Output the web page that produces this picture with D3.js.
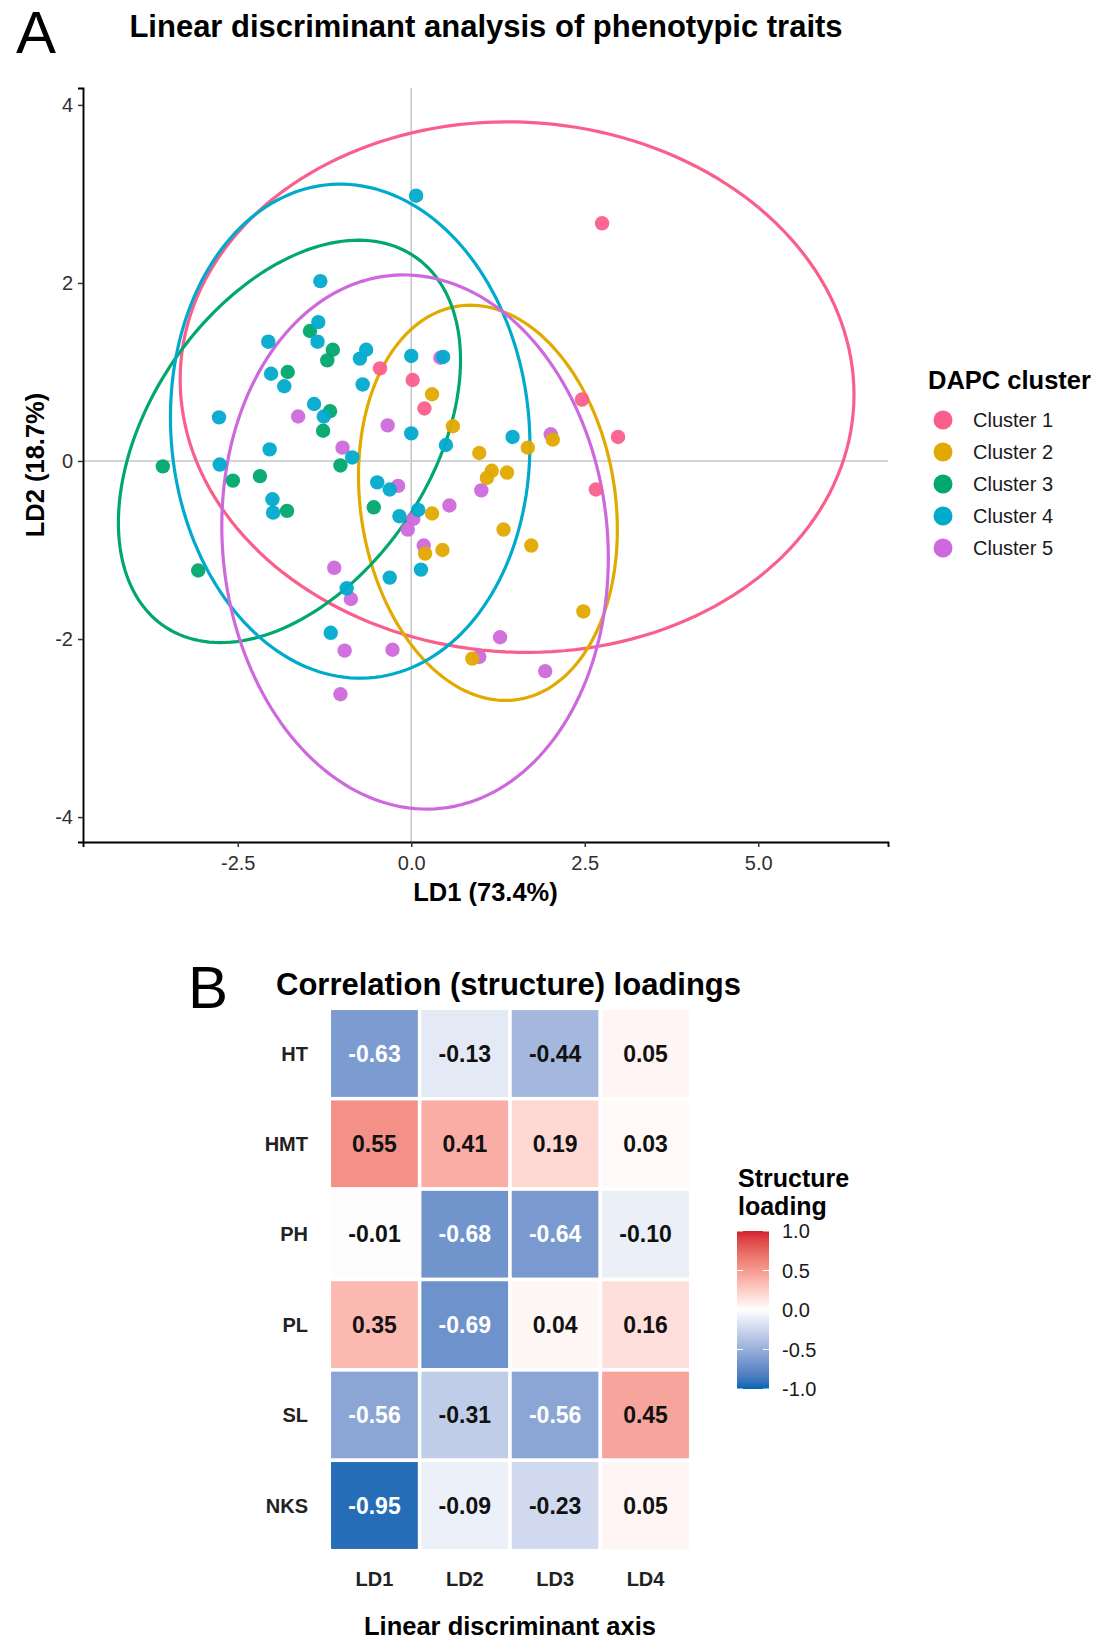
<!DOCTYPE html>
<html>
<head>
<meta charset="utf-8">
<script src="https://cdn.jsdelivr.net/npm/d3@7"></script>
<style>
  html, body { margin: 0; padding: 0; background: #fff; }
  svg { display: block; font-family: "Liberation Sans", Arial, Helvetica, sans-serif; }
</style>
</head>
<body>
<svg id="chart" width="1107" height="1647"></svg>
<script>
// ---------------- DATA ----------------
const clusterNames = ["Cluster 1", "Cluster 2", "Cluster 3", "Cluster 4", "Cluster 5"];
const clusterColors = ["#FA5F8C", "#E1AA00", "#00A86E", "#00AACD", "#CD69DC"];

// [LD1, LD2] per cluster
const cluster1Points = [[-0.45,1.04],[0.02,0.91],[0.19,0.59],[2.75,2.67],[2.46,0.69],[2.98,0.27],[2.66,-0.32]];
const cluster2Points = [[0.30,0.75],[0.60,0.39],[2.04,0.24],[1.68,0.15],[0.98,0.09],[1.16,-0.11],[1.09,-0.19],[1.38,-0.13],
  [0.30,-0.59],[1.33,-0.77],[1.73,-0.95],[0.20,-1.04],[0.45,-1.00],[2.48,-1.69],[0.88,-2.22]];
const cluster3Points = [[-1.46,1.46],[-1.13,1.25],[-1.21,1.13],[-1.78,1.00],[-1.17,0.56],[-1.27,0.34],[-3.58,-0.06],
  [-1.02,-0.05],[-2.57,-0.22],[-2.18,-0.17],[-1.79,-0.56],[-0.54,-0.52],[-3.07,-1.23]];
const cluster4Points = [[-1.31,2.02],[-1.34,1.56],[-1.35,1.34],[-2.06,1.34],[-2.02,0.98],[-1.83,0.84],[-0.65,1.25],
  [-0.74,1.15],[-0.70,0.86],[0.00,1.18],[-1.40,0.64],[-1.26,0.50],[-2.77,0.49],[-2.04,0.13],[-0.85,0.04],[0.00,0.31],
  [-2.76,-0.04],[0.07,2.98],[0.46,1.17],[0.50,0.18],[1.46,0.27],[-2.00,-0.43],[-1.99,-0.58],[-0.49,-0.24],[-0.31,-0.32],
  [-0.17,-0.62],[0.10,-0.55],[-0.93,-1.43],[-0.31,-1.31],[0.14,-1.22],[-1.16,-1.93]];
const cluster5Points = [[0.42,1.16],[-1.63,0.50],[-0.34,0.40],[-0.99,0.15],[2.01,0.30],[1.01,-0.33],[-0.19,-0.28],
  [0.55,-0.50],[0.03,-0.65],[-0.05,-0.77],[0.18,-0.95],[1.28,-1.98],[0.98,-2.20],[1.93,-2.36],[-1.11,-1.20],
  [-0.87,-1.55],[-0.96,-2.13],[-0.27,-2.12],[-1.02,-2.62]];

// 95% ellipse parameters (data units): centre, half extents, covariance term
const ellipseCenterX = [1.525, 1.105, -1.755, -0.88, 0.055];
const ellipseCenterY = [0.83, -0.47, 0.22, 0.335, -0.91];
const ellipseHalfX   = [4.855, 1.865, 2.465, 2.59, 2.785];
const ellipseHalfY   = [2.98, 2.22, 2.26, 2.775, 3.0];
const ellipseCov     = [-0.41, -0.56, 2.25, -0.40, -0.50];

const xTicks = [-2.5, 0, 2.5, 5];
const yTicks = [-4, -2, 0, 2, 4];

// Panel B
const traits = ["HT", "HMT", "PH", "PL", "SL", "NKS"];
const axesLD = ["LD1", "LD2", "LD3", "LD4"];
const loadings = [
  [-0.63, -0.13, -0.44, 0.05],
  [ 0.55,  0.41,  0.19, 0.03],
  [-0.01, -0.68, -0.64, -0.10],
  [ 0.35, -0.69,  0.04, 0.16],
  [-0.56, -0.31, -0.56, 0.45],
  [-0.95, -0.09, -0.23, 0.05]
];
const colorbarBreaks = [1.0, 0.5, 0.0, -0.5, -1.0];

// ---------------- DRAW ----------------
const svg = d3.select("#chart");
const FONT = '"Liberation Sans", Arial, Helvetica, sans-serif';

// Panel letter + title A
svg.append("text").attr("x", 16).attr("y", 53).attr("font-size", 60).attr("fill", "#000").text("A");
svg.append("text").attr("x", 486).attr("y", 37).attr("text-anchor", "middle")
  .attr("font-size", 31).attr("font-weight", "bold").attr("fill", "#000")
  .text("Linear discriminant analysis of phenotypic traits");

const x = d3.scaleLinear().domain([-4.73, 6.87]).range([83, 888]);
const y = d3.scaleLinear().domain([-4.28, 4.19]).range([842, 88]);

// reference lines
svg.append("line").attr("x1", x(0)).attr("x2", x(0)).attr("y1", y.range()[1]).attr("y2", y.range()[0])
  .attr("stroke", "#c6c6c6").attr("stroke-width", 1.5);
svg.append("line").attr("x1", x.range()[0]).attr("x2", x.range()[1]).attr("y1", y(0)).attr("y2", y(0))
  .attr("stroke", "#c6c6c6").attr("stroke-width", 1.5);

// ellipses
const ellGroup = svg.append("g");
const line = d3.line().x(d => x(d[0])).y(d => y(d[1])).curve(d3.curveLinearClosed);
clusterNames.forEach((name, i) => {
  const l11 = ellipseHalfX[i];
  const l21 = ellipseCov[i] / l11;
  const l22 = Math.sqrt(ellipseHalfY[i] * ellipseHalfY[i] - l21 * l21);
  const pts = d3.range(0, 361, 2).map(a => {
    const t = a * Math.PI / 180;
    const c = Math.cos(t), s = Math.sin(t);
    return [ellipseCenterX[i] + l11 * c, ellipseCenterY[i] + l21 * c + l22 * s];
  });
  ellGroup.append("path").attr("d", line(pts)).attr("fill", "none")
    .attr("stroke", clusterColors[i]).attr("stroke-width", 3.2);
});

// points
const pointSets = [cluster1Points, cluster2Points, cluster3Points, cluster4Points, cluster5Points];
const drawOrder = [0, 4, 1, 2, 3];
const ptGroup = svg.append("g");
drawOrder.forEach(i => {
  ptGroup.selectAll(null).data(pointSets[i]).enter().append("circle")
    .attr("cx", d => x(d[0])).attr("cy", d => y(d[1])).attr("r", 7.2)
    .attr("fill", clusterColors[i]).attr("fill-opacity", 0.95);
});

// axes
const xAxis = svg.append("g").attr("transform", `translate(0,${y.range()[0]})`)
  .call(d3.axisBottom(x).tickValues(xTicks).tickFormat(d => d.toFixed(1)).tickSizeOuter(0).tickSize(5).tickPadding(9));
const yAxis = svg.append("g").attr("transform", `translate(${x.range()[0]},0)`)
  .call(d3.axisLeft(y).tickValues(yTicks).tickFormat(d => String(d)).tickSizeOuter(0).tickSize(5).tickPadding(5));
[xAxis, yAxis].forEach(g => {
  g.select(".domain").attr("stroke", "#000").attr("stroke-width", 1.9);
  g.selectAll(".tick line").attr("stroke", "#333").attr("stroke-width", 1.5);
  g.selectAll(".tick text").attr("font-size", 20).attr("fill", "#303030").attr("font-family", FONT);
});

svg.append("text").attr("x", (x.range()[0] + x.range()[1]) / 2).attr("y", 901).attr("text-anchor", "middle")
  .attr("font-size", 25.5).attr("font-weight", "bold").text("LD1 (73.4%)");
svg.append("text").attr("transform", `translate(44,${(y.range()[0] + y.range()[1]) / 2}) rotate(-90)`)
  .attr("text-anchor", "middle").attr("font-size", 25.5).attr("font-weight", "bold").text("LD2 (18.7%)");

// legend A
svg.append("text").attr("x", 928).attr("y", 389).attr("font-size", 25.5).attr("font-weight", "bold").text("DAPC cluster");
clusterNames.forEach((name, i) => {
  const cy = 420 + i * 32;
  svg.append("circle").attr("cx", 943).attr("cy", cy).attr("r", 9.5).attr("fill", clusterColors[i]);
  svg.append("text").attr("x", 973).attr("y", cy).attr("dominant-baseline", "central")
    .attr("font-size", 20).attr("fill", "#1a1a1a").text(name);
});

// ---------------- PANEL B ----------------
svg.append("text").attr("x", 188).attr("y", 1008).attr("font-size", 60).attr("fill", "#000").text("B");
svg.append("text").attr("x", 276).attr("y", 995).attr("font-size", 31).attr("font-weight", "bold")
  .text("Correlation (structure) loadings");

const color = d3.scaleLinear().domain([-1, 0, 1]).range(["#0066B3", "#ffffff", "#D41E32"])
  .interpolate(d3.interpolateLab).clamp(true);
const xb = d3.scaleBand().domain(axesLD).range([329.3, 690.7]);
const yb = d3.scaleBand().domain(traits).range([1008.3, 1550.7]);

const cells = [];
traits.forEach((t, r) => axesLD.forEach((a, c) => cells.push({ t, a, v: loadings[r][c] })));

svg.append("g").selectAll("rect").data(cells).enter().append("rect")
  .attr("x", d => xb(d.a)).attr("y", d => yb(d.t)).attr("width", xb.bandwidth()).attr("height", yb.bandwidth())
  .attr("fill", d => color(d.v)).attr("stroke", "#fff").attr("stroke-width", 3.5);

svg.append("g").selectAll("text").data(cells).enter().append("text")
  .attr("x", d => xb(d.a) + xb.bandwidth() / 2).attr("y", d => yb(d.t) + yb.bandwidth() / 2)
  .attr("text-anchor", "middle").attr("dominant-baseline", "central")
  .attr("font-size", 23).attr("font-weight", "bold")
  .attr("fill", d => d.v < -0.5 ? "#fff" : "#111")
  .text(d => d.v.toFixed(2));

svg.append("g").selectAll("text").data(traits).enter().append("text")
  .attr("x", 308).attr("y", d => yb(d) + yb.bandwidth() / 2).attr("text-anchor", "end")
  .attr("dominant-baseline", "central").attr("font-size", 20).attr("font-weight", "bold").attr("fill", "#222")
  .text(d => d);
svg.append("g").selectAll("text").data(axesLD).enter().append("text")
  .attr("x", d => xb(d) + xb.bandwidth() / 2).attr("y", 1586).attr("text-anchor", "middle")
  .attr("font-size", 20).attr("font-weight", "bold").attr("fill", "#222").text(d => d);
svg.append("text").attr("x", 510).attr("y", 1635).attr("text-anchor", "middle")
  .attr("font-size", 25.5).attr("font-weight", "bold").text("Linear discriminant axis");

// colourbar legend
svg.append("text").attr("x", 738).attr("y", 1187).attr("font-size", 25).attr("font-weight", "bold").text("Structure");
svg.append("text").attr("x", 738).attr("y", 1215).attr("font-size", 25).attr("font-weight", "bold").text("loading");
const cb = d3.scaleLinear().domain([-1, 1]).range([1389, 1231]);
const defs = svg.append("defs");
const grad = defs.append("linearGradient").attr("id", "cbgrad").attr("x1", 0).attr("x2", 0).attr("y1", 1).attr("y2", 0);
d3.range(0, 1.0001, 0.05).forEach(f => {
  grad.append("stop").attr("offset", f).attr("stop-color", color(-1 + 2 * f));
});
svg.append("rect").attr("x", 737).attr("y", cb(1)).attr("width", 32).attr("height", cb(-1) - cb(1))
  .attr("fill", "url(#cbgrad)");
colorbarBreaks.forEach(b => {
  svg.append("line").attr("x1", 737).attr("x2", 743).attr("y1", cb(b)).attr("y2", cb(b)).attr("stroke", "#fff").attr("stroke-width", 1);
  svg.append("line").attr("x1", 763).attr("x2", 769).attr("y1", cb(b)).attr("y2", cb(b)).attr("stroke", "#fff").attr("stroke-width", 1);
  svg.append("text").attr("x", 782).attr("y", cb(b)).attr("dominant-baseline", "central")
    .attr("font-size", 20).attr("fill", "#1a1a1a").text(b.toFixed(1));
});
</script>
</body>
</html>
